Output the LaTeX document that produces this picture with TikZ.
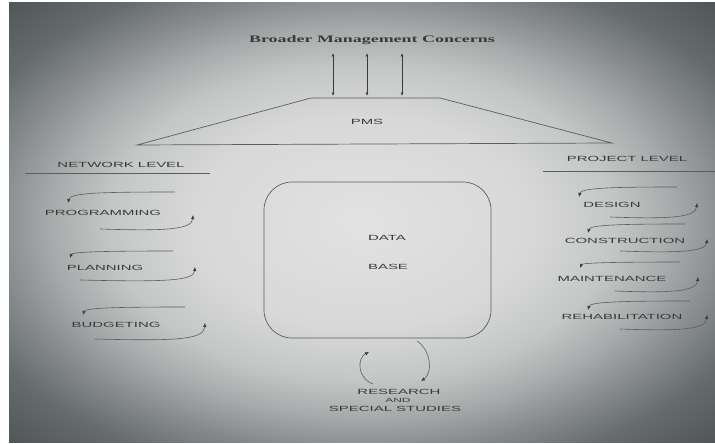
\documentclass[tikz,border=0pt]{standalone}
\usepackage{fontspec}
\newfontfamily\capsfont[FakeStretch=2.0]{Liberation Sans}
\newfontfamily\headfont[FakeStretch=1.8]{Liberation Serif}
\usetikzlibrary{arrows.meta}
\definecolor{ink}{HTML}{3A3A3A}
\definecolor{rule}{HTML}{5C5E5E}
\definecolor{bgA}{HTML}{E2E2E2}
\definecolor{bgB}{HTML}{D8D8D8}
\definecolor{bgC}{HTML}{C4C6C6}
\definecolor{bgD}{HTML}{A8ABAB}
\definecolor{bgE}{HTML}{868A8C}
\definecolor{bgF}{HTML}{666C6E}
\definecolor{bgG}{HTML}{4E5456}
\pgfdeclareradialshading{photo}{\pgfpoint{0bp}{0bp}}{color(0bp)=(bgA); color(12bp)=(bgB); color(18bp)=(bgC); color(22bp)=(bgD); color(26bp)=(bgE); color(30bp)=(bgF); color(36bp)=(bgG); color(50bp)=(bgG)}
\begin{document}
\begin{tikzpicture}[x=1bp, y=-1bp,
  lbl/.style={font=\capsfont\fontsize{7.5}{9}\selectfont, text=ink, inner sep=0pt},
  outline/.style={draw=rule, line width=0.7pt},
  cyc/.style={draw=rule, line width=0.6pt, -{Latex[length=4pt,width=3.5pt,color=ink]}},
  dbl/.style={draw=ink, line width=0.7pt, {Latex[length=3.5pt,width=3pt]}-{Latex[length=3.5pt,width=3pt]}}]
  \useasboundingbox (0,0) rectangle (715,444);
  % photo background
  \fill[white] (0,0) rectangle (715,444);
  \shade[shading=photo] (9,3) rectangle (715,442);

  % broader concerns and PMS
  \node[font=\headfont\bfseries\fontsize{10}{12}\selectfont, text=ink, inner sep=0pt] (bmc) at (372,40) {Broader Management Concerns};
  \coordinate (tl) at (311,98);
  \coordinate (tr) at (440,98);
  \coordinate (bl) at (137,145);
  \coordinate (br) at (612,143);
  \draw[outline] (bl) -- (tl) -- (tr) -- (br) -- cycle;
  \node[lbl] (pms) at (367,122) {PMS};
  \foreach \x [count=\i] in {333,367,402} {
    \coordinate (up\i) at (\x,53);
    \coordinate (dn\i) at (\x,96);
    \draw[dbl] (up\i) -- (dn\i);
  }

  % level headings
  \node[lbl] (net) at (121,165) {NETWORK LEVEL};
  \draw[outline] (25,173) -- (210,173);
  \node[lbl] (proj) at (627,159) {PROJECT LEVEL};
  \draw[outline] (543,171) -- (715,171);

  % activity loops
  \foreach \nm/\txt/\tx/\ty/\lx/\ly/\rx/\ry/\yt/\yb/\ts/\bs in {
      prog/PROGRAMMING/103/213/68/203/193/215/193/230/175/100,
      plan/PLANNING/105/268/70/258/195/267/252/281/173/80,
      budg/BUDGETING/116/325/83/315/205/323/308/340/185/95,
      des/DESIGN/612/205/579/197/697/203/188/218/677/610,
      cons/CONSTRUCTION/625/241/588/233/707/239/225/252/685/620,
      mnt/MAINTENANCE/612/279/580/268/698/277/263/292/680/615,
      reh/REHABILITATION/622/317/588/310/707/315/302/330/690/620} {
    \node[lbl] (\nm) at (\tx,\ty) {\txt};
    \coordinate (\nm-ts) at (\ts,{\yt-1});
    \coordinate (\nm-l) at (\lx,\ly);
    \coordinate (\nm-bs) at (\bs,{\yb-1});
    \coordinate (\nm-r) at (\rx,\ry);
    \draw[cyc] (\nm-ts) .. controls ({\lx+30},{\yt-1}) and ({\lx+2},\yt) .. (\nm-l);
    \draw[cyc] (\nm-bs) .. controls ({\rx-30},{\yb+1}) and ({\rx-1},\yb) .. (\nm-r);
  }

  % data base
  \node[outline, rounded corners=28bp, minimum width=227bp, minimum height=156bp] (db) at (377.5,260) {};
  \node[lbl] (data) at (387,238) {DATA};
  \node[lbl] (base) at (388,267) {BASE};

  % research loop
  \coordinate (ra) at (373,384);
  \coordinate (rb) at (369,352);
  \coordinate (rc) at (417,341);
  \coordinate (rd) at (421,381);
  \draw[cyc] (ra) .. controls (357,378) and (357,358) .. (rb);
  \draw[cyc] (rc) .. controls (431,350) and (433,373) .. (rd);
  \node[lbl] (res) at (399,392) {RESEARCH};
  \node[lbl, font=\capsfont\fontsize{6}{7}\selectfont] (and) at (398,400) {AND};
  \node[lbl] (spec) at (395,409) {SPECIAL STUDIES};
\end{tikzpicture}
\end{document}
